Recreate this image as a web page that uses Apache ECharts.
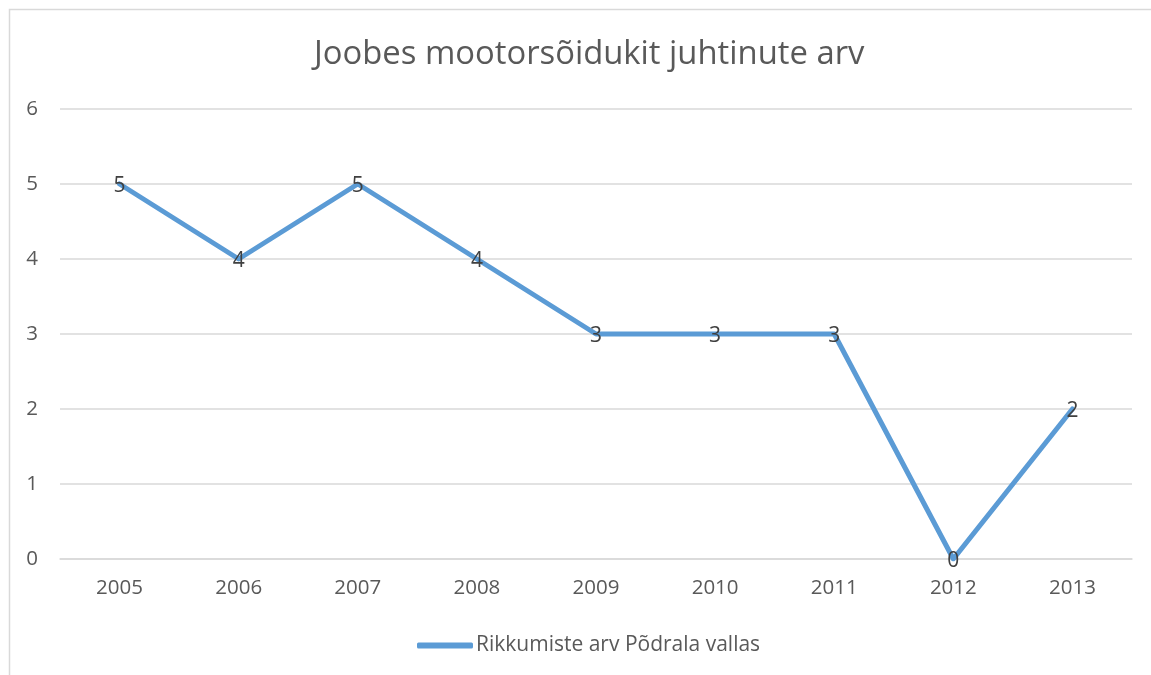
<!DOCTYPE html>
<html>
<head>
<meta charset="utf-8">
<script src="https://cdn.jsdelivr.net/npm/echarts@6/dist/echarts.min.js"></script>
<style>
  html, body { margin: 0; padding: 0; background: #fff; }
  #chart { width: 1151px; height: 675px; }
</style>
</head>
<body>
<div id="chart"></div>
<script>
var years = ["2005", "2006", "2007", "2008", "2009", "2010", "2011", "2012", "2013"];
var rikkumised = [5, 4, 5, 4, 3, 3, 3, 0, 2];
var yTicks = { min: 0, max: 6, interval: 1 };

var font = "'Open Sans', 'Noto Sans', sans-serif";
var myChart = echarts.init(document.getElementById("chart"));

var option = {
  backgroundColor: "#fff",
  textStyle: { fontFamily: font },
  title: {
    text: "Joobes mootorsõidukit juhtinute arv",
    left: 309,
    top: 33,
    textStyle: { fontSize: 32.8, fontWeight: "normal", color: "#595959", fontFamily: font }
  },
  graphic: [
    {
      type: "rect",
      shape: { x: 9.5, y: 9.5, width: 1160, height: 700 },
      style: { fill: null, stroke: "#d9d9d9", lineWidth: 1.5 },
      silent: true
    }
  ],
  legend: {
    top: 630,
    left: 412,
    itemWidth: 56,
    itemHeight: 6,
    itemGap: 4,
    icon: "roundRect",
    textStyle: { fontSize: 21, color: "#595959", fontFamily: font, padding: [0, 0, 0, -2] },
    data: [{ name: "Rikkumiste arv Põdrala vallas", itemStyle: { color: "#5B9BD5" } }]
  },
  grid: { left: 60, right: 19, top: 109, bottom: 116, containLabel: false },
  xAxis: {
    type: "category",
    data: years,
    boundaryGap: true,
    axisLine: { show: true, lineStyle: { color: "#d9d9d9", width: 1.5 } },
    axisTick: { show: false },
    axisLabel: { fontSize: 20.5, color: "#595959", margin: 19, fontFamily: font }
  },
  yAxis: {
    type: "value",
    min: yTicks.min,
    max: yTicks.max,
    interval: yTicks.interval,
    axisLine: { show: false },
    axisTick: { show: false },
    axisLabel: { fontSize: 20.5, color: "#595959", margin: 22, fontFamily: font },
    splitLine: { lineStyle: { color: "#d9d9d9", width: 1.5 } }
  },
  series: [
    {
      name: "Rikkumiste arv Põdrala vallas",
      type: "line",
      data: rikkumised,
      symbol: "circle",
      symbolSize: 1,
      showSymbol: true,
      lineStyle: { color: "#5B9BD5", width: 5, cap: "round", join: "round" },
      itemStyle: { color: "#5B9BD5" },
      label: {
        show: true,
        position: "inside",
        offset: [0, 2],
        fontSize: 21,
        color: "#404040",
        fontFamily: font
      },
      animation: false
    }
  ],
  animation: false
};

myChart.setOption(option);
</script>
</body>
</html>
